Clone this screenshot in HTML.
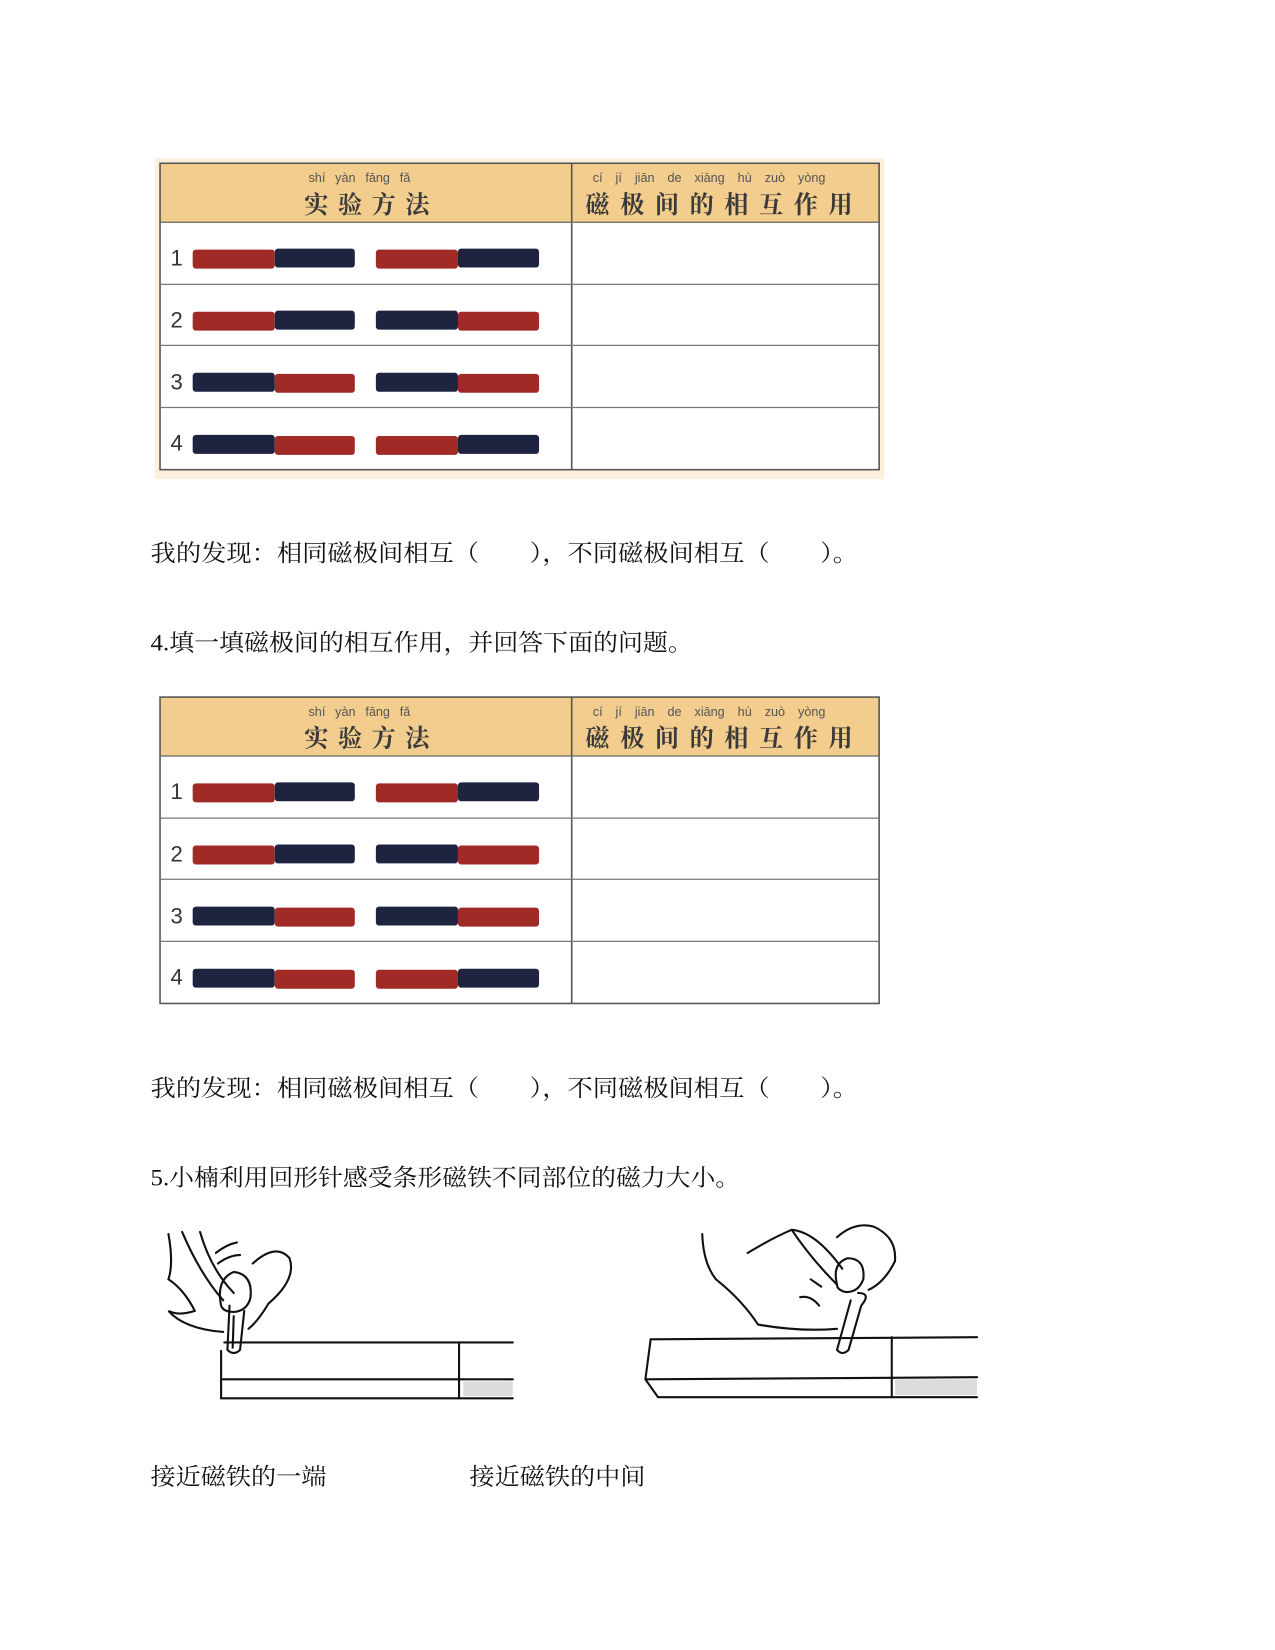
<!DOCTYPE html>
<html><head><meta charset="utf-8"><style>
html,body{margin:0;padding:0;background:#fff;}
svg{display:block;}
.cn{font-family:"Liberation Serif","Noto Serif CJK SC",serif;font-size:22px;fill:#111;}
.py{font-family:"Liberation Sans",sans-serif;font-size:12px;fill:#555;}
.hd{font-family:"Noto Serif CJK SC",serif;font-size:23px;fill:#3a3a3a;font-weight:bold;}
.num{font-family:"Liberation Sans",sans-serif;font-size:21px;fill:#333;}
</style></head><body>
<svg width="1275" height="1650" viewBox="0 0 1211 1567" xmlns="http://www.w3.org/2000/svg">
<defs>
<g id="tbl">
  <rect x="152" y="155" width="683" height="56" fill="#f3cd8e"/>
  <rect x="152" y="155" width="683" height="291" fill="none" stroke="#555" stroke-width="1.5"/>
  <line x1="543" y1="155" x2="543" y2="446" stroke="#555" stroke-width="1.5"/>
  <line x1="152" y1="211" x2="835" y2="211" stroke="#666" stroke-width="1.2"/>
  <line x1="152" y1="270" x2="835" y2="270" stroke="#777" stroke-width="1.2"/>
  <line x1="152" y1="328" x2="835" y2="328" stroke="#777" stroke-width="1.2"/>
  <line x1="152" y1="387" x2="835" y2="387" stroke="#777" stroke-width="1.2"/>
  <text class="py" x="293" y="173" word-spacing="6">shí  yàn fāng  fǎ</text>
  <text class="hd" x="289" y="202" letter-spacing="9">实验方法</text>
  <text class="py" x="563" y="173" word-spacing="9">cí   jí   jiān  de xiāng hù  zuò yòng</text>
  <text class="hd" x="556" y="202" letter-spacing="10">磁极间的相互作用</text>
  <text class="num" x="162" y="252">1</text>
  <text class="num" x="162" y="311">2</text>
  <text class="num" x="162" y="370">3</text>
  <text class="num" x="162" y="428">4</text>
  <rect x="183" y="237" width="78" height="18" rx="3" fill="#a02b26"/><rect x="261" y="236" width="76" height="18" rx="3" fill="#1e2340"/>
  <rect x="357" y="237" width="78" height="18" rx="3" fill="#a02b26"/><rect x="435" y="236" width="77" height="18" rx="3" fill="#1e2340"/>
  <rect x="183" y="296" width="78" height="18" rx="3" fill="#a02b26"/><rect x="261" y="295" width="76" height="18" rx="3" fill="#1e2340"/>
  <rect x="357" y="295" width="78" height="18" rx="3" fill="#1e2340"/><rect x="435" y="296" width="77" height="18" rx="3" fill="#a02b26"/>
  <rect x="183" y="354" width="78" height="18" rx="3" fill="#1e2340"/><rect x="261" y="355" width="76" height="18" rx="3" fill="#a02b26"/>
  <rect x="357" y="354" width="78" height="18" rx="3" fill="#1e2340"/><rect x="435" y="355" width="77" height="18" rx="3" fill="#a02b26"/>
  <rect x="183" y="413" width="78" height="18" rx="3" fill="#1e2340"/><rect x="261" y="414" width="76" height="18" rx="3" fill="#a02b26"/>
  <rect x="357" y="414" width="78" height="18" rx="3" fill="#a02b26"/><rect x="435" y="413" width="77" height="18" rx="3" fill="#1e2340"/>
</g>
</defs>
<rect x="147" y="150" width="693" height="305" fill="#fcf0dc"/>
<rect x="152" y="211" width="683" height="235" fill="#fff"/>
<use href="#tbl"/>
<text class="cn" x="143" y="533" textLength="672" lengthAdjust="spacingAndGlyphs">我的发现：相同磁极间相互（　　），不同磁极间相互（　　）。</text>
<text class="cn" x="143" y="618" textLength="515" lengthAdjust="spacingAndGlyphs">4.填一填磁极间的相互作用，并回答下面的问题。</text>
<g transform="translate(0,507)"><use href="#tbl"/></g>
<text class="cn" x="143" y="1041" textLength="672" lengthAdjust="spacingAndGlyphs">我的发现：相同磁极间相互（　　），不同磁极间相互（　　）。</text>
<text class="cn" x="143" y="1126" textLength="560" lengthAdjust="spacingAndGlyphs">5.小楠利用回形针感受条形磁铁不同部位的磁力大小。</text>
<g fill="none" stroke="#111" stroke-width="2" stroke-linecap="round">
  <path d="M213 1275 L487 1275"/>
  <path d="M210 1283 L210 1328 L487 1328"/>
  <path d="M210 1310 L487 1310"/>
  <path d="M436 1275 L436 1328"/>
  <path d="M160 1172 Q165 1200 160 1215 Q175 1225 185 1245 Q170 1250 160 1245 Q175 1262 212 1265"/>
  <path d="M173 1170 Q190 1210 212 1235"/>
  <path d="M190 1170 Q200 1205 222 1228"/>
  <path d="M205 1190 Q215 1182 225 1180 M207 1200 Q218 1192 228 1192"/>
  <path d="M210 1240 Q205 1215 222 1208 Q240 1210 238 1232 Q235 1245 222 1246 Q212 1246 210 1240"/>
  <path d="M240 1200 Q262 1180 275 1195 Q282 1215 255 1238 Q245 1255 236 1262"/>
  <path d="M218 1240 L216 1282 Q222 1288 228 1282 L232 1245 M222 1250 L221 1280"/>
</g>
<g fill="none" stroke="#111" stroke-width="2" stroke-linecap="round">
  <path d="M618 1272 L928 1270"/>
  <path d="M618 1272 L613 1310 L625 1327 L928 1327"/>
  <path d="M613 1310 L928 1308"/>
  <path d="M847 1270 L847 1327"/>
  <path d="M667 1172 Q668 1200 680 1215 Q705 1235 720 1258 Q760 1265 795 1262"/>
  <path d="M710 1190 Q735 1175 752 1168 Q770 1195 795 1220"/>
  <path d="M752 1168 Q775 1170 800 1205"/>
  <path d="M795 1175 Q812 1160 830 1165 Q852 1175 850 1198 Q840 1218 825 1225"/>
  <path d="M795 1220 Q790 1200 805 1195 Q822 1195 820 1215 Q815 1228 803 1227 Q795 1225 795 1220"/>
  <path d="M808 1235 L795 1282 Q800 1288 806 1282 L818 1240 Q828 1228 815 1228"/>
  <path d="M760 1232 Q770 1230 778 1240 M770 1215 L780 1222"/>
</g>
<rect x="440" y="1312" width="47" height="14" fill="#ddd"/>
<rect x="850" y="1310" width="78" height="15" fill="#ddd"/>
<text class="cn" x="143" y="1410" textLength="167" lengthAdjust="spacingAndGlyphs">接近磁铁的一端</text>
<text class="cn" x="446" y="1410" textLength="167" lengthAdjust="spacingAndGlyphs">接近磁铁的中间</text>
</svg>
</body></html>
